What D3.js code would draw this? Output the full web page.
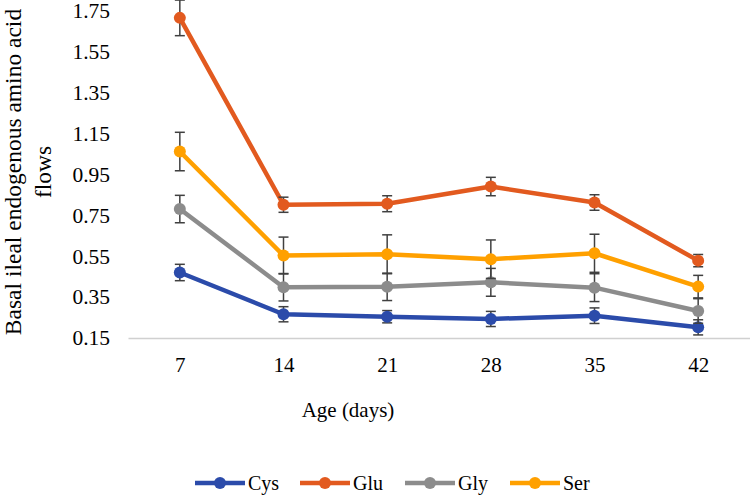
<!DOCTYPE html>
<html>
<head>
<meta charset="utf-8">
<script src="https://cdn.jsdelivr.net/npm/d3@7"></script>
<style>
  html, body { margin: 0; padding: 0; background: #fff; }
  svg { display: block; }
  text { font-family: "Liberation Serif", "Times New Roman", serif; fill: #000; }
</style>
</head>
<body>
<svg id="chart" width="750" height="496"></svg>
<script>
const ages = ["7", "14", "21", "28", "35", "42"];
const yTicks = [0.15, 0.35, 0.55, 0.75, 0.95, 1.15, 1.35, 1.55, 1.75];
const seriesNames = ["Cys", "Glu", "Gly", "Ser"];
const seriesColors = ["#2b4baa", "#e25a1f", "#8c8c8c", "#ffa000"];
const cysValues = [0.470, 0.266, 0.254, 0.243, 0.259, 0.202];
const cysErrors = [0.040, 0.037, 0.030, 0.037, 0.038, 0.037];
const gluValues = [1.714, 0.801, 0.806, 0.890, 0.812, 0.528];
const gluErrors = [0.087, 0.037, 0.039, 0.045, 0.038, 0.030];
const glyValues = [0.780, 0.398, 0.400, 0.422, 0.396, 0.282];
const glyErrors = [0.067, 0.067, 0.067, 0.068, 0.068, 0.060];
const serValues = [1.061, 0.553, 0.559, 0.535, 0.564, 0.401];
const serErrors = [0.094, 0.090, 0.095, 0.094, 0.093, 0.055];

const series = [
  { name: seriesNames[0], color: seriesColors[0], values: cysValues, errors: cysErrors },
  { name: seriesNames[1], color: seriesColors[1], values: gluValues, errors: gluErrors },
  { name: seriesNames[2], color: seriesColors[2], values: glyValues, errors: glyErrors },
  { name: seriesNames[3], color: seriesColors[3], values: serValues, errors: serErrors }
];

const svg = d3.select("#chart");
const x = d3.scalePoint().domain(ages).range([128, 750]).padding(0.5);
const y = d3.scaleLinear().domain([0.15, 1.75]).range([338, 10.5]);

// Y axis (labels only)
const yAxis = d3.axisLeft(y).tickValues(yTicks).tickFormat(d3.format(".2f")).tickSize(0).tickPadding(0);
const gy = svg.append("g").attr("transform", "translate(110,0)").call(yAxis);
gy.select(".domain").remove();
gy.selectAll("text").style("font-size", "21.5px").style("font-family", "Liberation Serif").attr("dy", "0.32em");

// X axis
const xAxis = d3.axisBottom(x).tickSize(0).tickPadding(0);
const gx = svg.append("g").attr("transform", "translate(0,338)").call(xAxis);
gx.select(".domain").attr("stroke", "#d0d0d0").attr("stroke-width", 1.3);
gx.selectAll("text").style("font-size", "21px").style("font-family", "Liberation Serif").attr("y", 34).attr("dy", 0);

// Axis titles
svg.append("text").attr("x", 348).attr("y", 417).attr("text-anchor", "middle")
  .style("font-size", "21px").text("Age (days)");
const yt = svg.append("text").attr("transform", "translate(0,172) rotate(-90)").attr("text-anchor", "middle")
  .style("font-size", "23.5px");
yt.append("tspan").attr("x", 0).attr("y", 21).text("Basal ileal endogenous amino acid");
yt.append("tspan").attr("x", 0).attr("y", 51).text("flows");

const line = d3.line().x((d, i) => x(ages[i])).y(d => y(d));

series.forEach(s => {
  const g = svg.append("g");
  g.append("path").datum(s.values).attr("d", line).attr("fill", "none")
    .attr("stroke", s.color).attr("stroke-width", 4.5).attr("stroke-linejoin", "round");
  // error bars
  s.values.forEach((v, i) => {
    const cx = x(ages[i]);
    const y1 = y(v + s.errors[i]), y2 = y(v - s.errors[i]);
    g.append("line").attr("x1", cx).attr("x2", cx).attr("y1", y1).attr("y2", y2)
      .attr("stroke", "#404040").attr("stroke-width", 1.5);
    [y1, y2].forEach(yy => g.append("line").attr("x1", cx - 5).attr("x2", cx + 5).attr("y1", yy).attr("y2", yy)
      .attr("stroke", "#404040").attr("stroke-width", 1.5));
  });
  g.selectAll("circle").data(s.values).enter().append("circle")
    .attr("cx", (d, i) => x(ages[i])).attr("cy", d => y(d)).attr("r", 6).attr("fill", s.color);
});

// Legend
const legendX = [195, 300, 405, 510];
series.forEach((s, i) => {
  const g = svg.append("g").attr("transform", `translate(${legendX[i]},483)`);
  g.append("line").attr("x1", 0).attr("x2", 50).attr("y1", 0).attr("y2", 0)
    .attr("stroke", s.color).attr("stroke-width", 4.5);
  g.append("circle").attr("cx", 25).attr("cy", 0).attr("r", 6).attr("fill", s.color);
  g.append("text").attr("x", 53).attr("y", 7).style("font-size", "20px").text(s.name);
});
</script>
</body>
</html>
